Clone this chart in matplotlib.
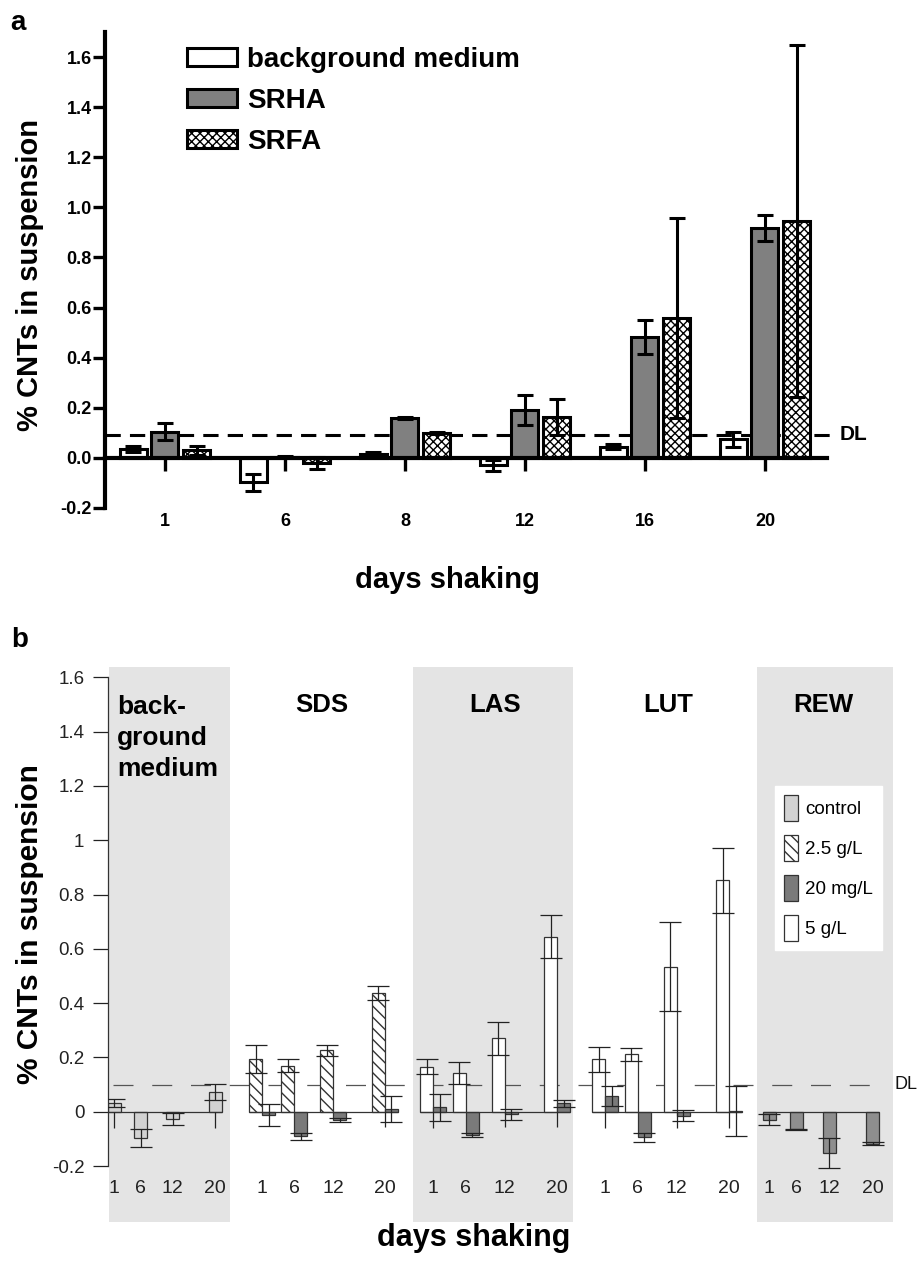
import matplotlib.pyplot as plt
from matplotlib.patches import Patch

plt.rcParams['font.family'] = ['Liberation Sans', 'DejaVu Sans']
plt.rcParams['hatch.linewidth'] = 1.0

W, H = 919, 1261

# ---------------- panel a data ----------------
days_a = ['1', '6', '8', '12', '16', '20']
bg_mean = [0.035, -0.098, 0.015, -0.030, 0.045, 0.074]
bg_err = [0.013, 0.035, 0.010, 0.022, 0.010, 0.030]
srha_mean = [0.105, 0.005, 0.160, 0.192, 0.483, 0.918]
srha_err = [0.033, 0.003, 0.005, 0.061, 0.068, 0.052]
srfa_mean = [0.030, -0.020, 0.100, 0.165, 0.558, 0.947]
srfa_err = [0.018, 0.025, 0.003, 0.072, 0.400, 0.703]
dl_a = 0.092

# ---------------- panel b data ----------------
days_b = [1, 6, 12, 20]
group_names = ['back-\nground\nmedium', 'SDS', 'LAS', 'LUT', 'REW']
# control (background medium only)
ctrl_mean = [0.033, -0.096, -0.025, 0.072]
ctrl_err = [0.014, 0.034, 0.022, 0.029]
# 2.5 g/L (SDS)
sds_mean = [0.194, 0.170, 0.227, 0.436]
sds_err = [0.052, 0.023, 0.020, 0.026]
# 5 g/L (LAS, LUT)
las_mean = [0.166, 0.142, 0.270, 0.645]
las_err = [0.027, 0.040, 0.060, 0.078]
lut_mean = [0.193, 0.212, 0.534, 0.853]
lut_err = [0.045, 0.024, 0.164, 0.120]
# 20 mg/L
sds20_mean = [-0.012, -0.090, -0.031, 0.010]
sds20_err = [0.040, 0.013, 0.008, 0.048]
las20_mean = [0.016, -0.086, -0.010, 0.031]
las20_err = [0.050, 0.008, 0.020, 0.012]
lut20_mean = [0.059, -0.094, -0.015, 0.004]
lut20_err = [0.037, 0.017, 0.020, 0.092]
rew20_mean = [-0.030, -0.064, -0.151, -0.117]
rew20_err = [0.020, 0.002, 0.055, 0.005]
# capless whiskers at the day position (lower end), None = no whisker
bg_whisk = [-0.060, None, None, -0.060]
sds_whisk = [None, None, None, -0.055]
las_whisk = [-0.060, None, -0.055, -0.055]
lut_whisk = [-0.060, None, -0.060, -0.060]
dl_b = 0.1

fig = plt.figure(figsize=(W / 100, H / 100), dpi=100)


def fx(x):
    return x / W


def fy(y):
    return 1 - y / H


# ================= panel a =================
ax = fig.add_axes([fx(105), fy(508), (827 - 105) / W, (508 - 32) / H])
xa = list(range(len(days_a)))
bw = 0.225
off = 0.265
ax.bar([x - off for x in xa], bg_mean, bw, color='white', edgecolor='black',
       linewidth=2.2, label='background medium', zorder=2)
ax.bar(xa, srha_mean, bw, color='#808080', edgecolor='black',
       linewidth=2.2, label='SRHA', zorder=2)
ax.bar([x + off for x in xa], srfa_mean, bw, color='white', edgecolor='black',
       hatch='xxxx', linewidth=2.2, label='SRFA', zorder=2)
for xs, m, e in [([x - off for x in xa], bg_mean, bg_err),
                 (xa, srha_mean, srha_err),
                 ([x + off for x in xa], srfa_mean, srfa_err)]:
    ax.errorbar(xs, m, yerr=e, fmt='none', ecolor='black', elinewidth=2.2,
                capsize=6, capthick=2.2, zorder=3)

ax.axhline(dl_a, xmin=0, xmax=1.007, color='black', linewidth=2.2,
           dashes=(5, 3), clip_on=False, zorder=1)
ax.text(5.62, dl_a, 'DL', fontsize=15, fontweight='bold', va='center')

ax.set_xlim(-0.5, 5.517)
ax.set_ylim(-0.2, 1.70)
ax.spines['top'].set_visible(False)
ax.spines['right'].set_visible(False)
ax.spines['bottom'].set_position(('data', 0))
ax.spines['left'].set_linewidth(3)
ax.spines['bottom'].set_linewidth(3)
ax.set_xticks(xa, days_a)
ax.set_yticks([-0.2 + 0.2 * i for i in range(10)],
              ['%.1f' % (-0.2 + 0.2 * i) for i in range(10)])
ax.tick_params(axis='x', direction='out', length=9, width=2.4, pad=31,
               labelsize=13)
ax.tick_params(axis='y', direction='out', length=8.5, width=2.4, pad=1,
               labelsize=13)
for lab in ax.get_xticklabels() + ax.get_yticklabels():
    lab.set_fontweight('bold')

leg = ax.legend(loc='upper left', bbox_to_anchor=(0.114, 0.968), frameon=False,
                prop={'size': 20, 'weight': 'bold'}, handlelength=1.8,
                handleheight=0.62, handletextpad=0.35, labelspacing=0.53,
                borderpad=0, borderaxespad=0)

fig.text(fx(30), fy(275), '% CNTs in suspension', rotation=90, fontsize=21,
         fontweight='bold', ha='center', va='center')
fig.text(fx(447), fy(580), 'days shaking', fontsize=21, fontweight='bold',
         ha='center', va='center')
fig.text(fx(18), fy(23), 'a', fontsize=20, fontweight='bold',
         ha='center', va='center')

# ================= panel b =================
bx = fig.add_axes([fx(108), fy(1222), (893 - 108) / W, (1222 - 667) / H])
bx.set_xlim(0, 785)
bx.set_ylim(-0.406, 1.638)

# layout: day-1 position and spacing per day for each sub-panel
grp_x0 = [6, 154, 325, 497, 661]
grp_step = [5.32, 6.47, 6.53, 6.53, 5.47]
shade = [(1, 122), (305, 465), (649, 785)]
title_x = [9, 214, 387, 560, 715]
bwb = 13

for a, b in shade:
    bx.axvspan(a, b, color='#e4e4e4', zorder=0, linewidth=0)


def day_pos(g):
    return [grp_x0[g] + grp_step[g] * (d - 1) for d in days_b]


def draw_bars(xs, means, errs, face, hatch=None):
    bx.bar(xs, means, bwb, color=face, edgecolor='#333333', linewidth=0.9,
           hatch=hatch, zorder=2)
    bx.errorbar(xs, means, yerr=errs, fmt='none', ecolor='#222222',
                elinewidth=0.9, capsize=8, capthick=0.9, zorder=3)


def draw_whisk(xs, lows):
    for x, lo in zip(xs, lows):
        if lo is not None:
            bx.vlines(x, lo, 0, color='#222222', linewidth=0.9, zorder=3)


hatch_b = '\\' * 3
# background medium: control only
p0 = day_pos(0)
draw_bars(p0, ctrl_mean, ctrl_err, '#d2d2d2')
draw_whisk(p0, bg_whisk)
# SDS, LAS, LUT: treatment left of day position, 20 mg/L right of it
treat = [(sds_mean, sds_err, 'white', hatch_b, sds20_mean, sds20_err, sds_whisk),
         (las_mean, las_err, 'white', None, las20_mean, las20_err, las_whisk),
         (lut_mean, lut_err, 'white', None, lut20_mean, lut20_err, lut_whisk)]
for g, (m, e, fc, ht, m20, e20, wk) in enumerate(treat, start=1):
    p = day_pos(g)
    draw_bars([x - bwb / 2 for x in p], m, e, fc, ht)
    draw_bars([x + bwb / 2 for x in p], m20, e20, '#7a7a7a')
    draw_whisk(p, wk)
# REW: 20 mg/L only
p4 = day_pos(4)
draw_bars(p4, rew20_mean, rew20_err, '#8e8e8e')

# zero baselines per sub-panel
for g in range(5):
    p = day_pos(g)
    if g in (0, 4):
        lo, hi = p[0] - bwb / 2, p[-1] + bwb / 2
    else:
        lo, hi = p[0] - bwb, p[-1] + bwb
    if g == 0:
        lo = 0
    bx.hlines(0, lo, hi, color='#333333', linewidth=0.9, zorder=2.5)
    for x, d in zip(p, days_b):
        bx.text(x, -0.281, str(d), fontsize=14, ha='center', va='center',
                color='#222222')

# DL line
bx.plot([5, 775], [dl_b, dl_b], color='#555555', linewidth=0.9,
        dashes=(16, 15), zorder=1)
bx.text(787, dl_b, 'DL', fontsize=13, va='center', color='#111111',
        clip_on=False)

# sub-panel titles
bx.text(title_x[0], 1.535, group_names[0], fontsize=19, fontweight='bold',
        ha='left', va='top', linespacing=1.36)
for g in range(1, 5):
    bx.text(title_x[g], 1.498, group_names[g], fontsize=18.5,
            fontweight='bold', ha='center', va='center')

for s in ['top', 'right', 'bottom']:
    bx.spines[s].set_visible(False)
bx.spines['left'].set_bounds(-0.2, 1.6)
bx.spines['left'].set_linewidth(0.9)
bx.spines['left'].set_color('#333333')
yt = [round(-0.2 + 0.2 * i, 1) for i in range(10)]
bx.set_yticks(yt, ['%g' % v for v in yt])
bx.set_xticks([])
bx.tick_params(axis='y', direction='out', length=11, width=0.9, pad=6,
               labelsize=13.5, colors='#222222')

handles = [Patch(facecolor='#d2d2d2', edgecolor='#333333', linewidth=0.9),
           Patch(facecolor='white', edgecolor='#333333', hatch=hatch_b,
                 linewidth=0.9),
           Patch(facecolor='#7a7a7a', edgecolor='#333333', linewidth=0.9),
           Patch(facecolor='white', edgecolor='#333333', linewidth=0.9)]
lg = bx.legend(handles, ['control', '2.5 g/L', '20 mg/L', '5 g/L'],
               loc='upper left', bbox_to_anchor=(0.85, 0.785), fontsize=13.5,
               handlelength=0.75, handleheight=1.75, handletextpad=0.4,
               labelspacing=0.76, borderpad=0.45, borderaxespad=0,
               frameon=True, fancybox=False, framealpha=1)
lg.get_frame().set_edgecolor('white')
lg.get_frame().set_facecolor('white')

fig.text(fx(30), fy(924), '% CNTs in suspension', rotation=90, fontsize=21.5,
         fontweight='bold', ha='center', va='center')
fig.text(fx(474), fy(1238), 'days shaking', fontsize=22, fontweight='bold',
         ha='center', va='center')
fig.text(fx(20), fy(640), 'b', fontsize=20, fontweight='bold',
         ha='center', va='center')

fig.savefig('out.png', dpi=100)
